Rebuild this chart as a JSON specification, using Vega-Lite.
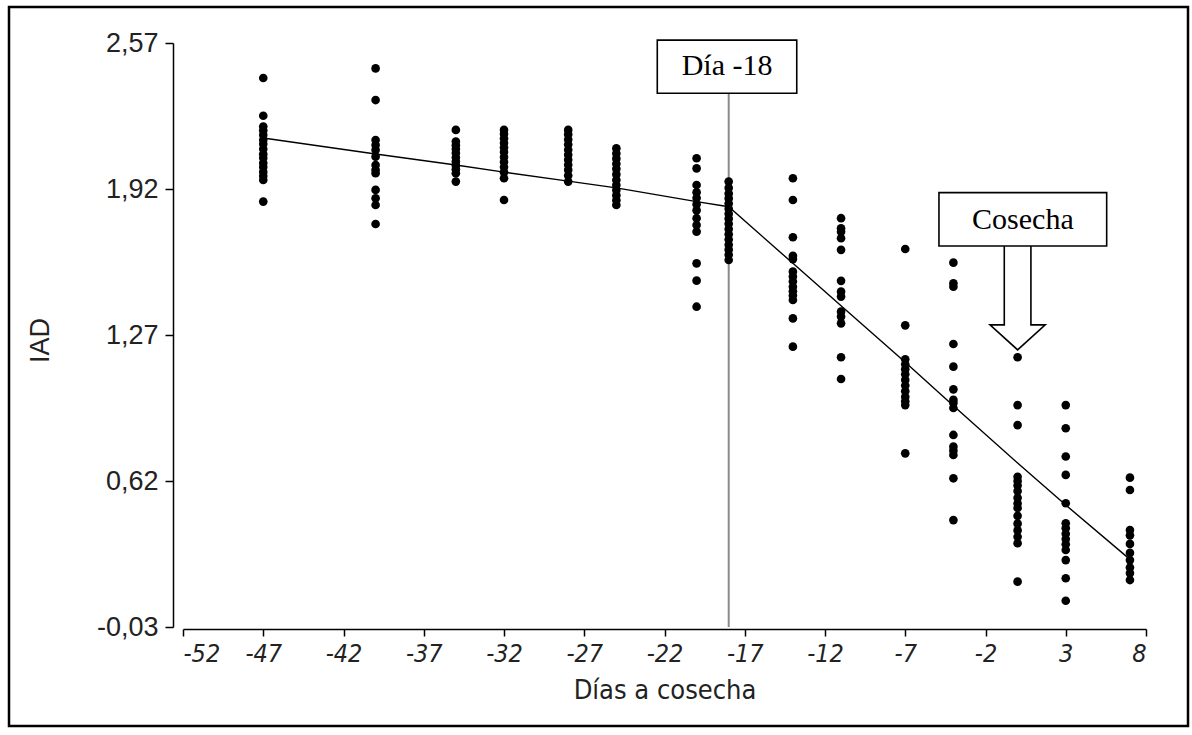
{
  "$schema": "https://vega.github.io/schema/vega-lite/v6.json",
  "width": 1179,
  "height": 719,
  "autosize": {"type": "none"},
  "padding": {"left": 9, "top": 7, "right": 4, "bottom": 9},
  "background": "white",
  "config": {
    "view": {"stroke": "black", "strokeWidth": 2.5},
    "axis": {"grid": false, "domainColor": "black", "domainWidth": 1.5, "tickColor": "black", "tickWidth": 1.5}
  },
  "datasets": {
    "pts": [
      {"x": -47, "y": 2.414}, {"x": -47, "y": 2.246}, {"x": -47, "y": 2.198}, {"x": -47, "y": 2.180}, {"x": -47, "y": 2.160}, {"x": -47, "y": 2.138}, {"x": -47, "y": 2.120}, {"x": -47, "y": 2.098}, {"x": -47, "y": 2.075}, {"x": -47, "y": 2.058}, {"x": -47, "y": 2.036}, {"x": -47, "y": 2.018}, {"x": -47, "y": 1.996}, {"x": -47, "y": 1.978}, {"x": -47, "y": 1.960}, {"x": -47, "y": 1.864},
      {"x": -40, "y": 2.457}, {"x": -40, "y": 2.316}, {"x": -40, "y": 2.138}, {"x": -40, "y": 2.116}, {"x": -40, "y": 2.094}, {"x": -40, "y": 2.064}, {"x": -40, "y": 2.027}, {"x": -40, "y": 2.005}, {"x": -40, "y": 1.990}, {"x": -40, "y": 1.916}, {"x": -40, "y": 1.879}, {"x": -40, "y": 1.849}, {"x": -40, "y": 1.764},
      {"x": -35, "y": 2.183}, {"x": -35, "y": 2.131}, {"x": -35, "y": 2.115}, {"x": -35, "y": 2.098}, {"x": -35, "y": 2.080}, {"x": -35, "y": 2.060}, {"x": -35, "y": 2.042}, {"x": -35, "y": 2.025}, {"x": -35, "y": 2.008}, {"x": -35, "y": 1.990}, {"x": -35, "y": 1.953},
      {"x": -32, "y": 2.183}, {"x": -32, "y": 2.165}, {"x": -32, "y": 2.145}, {"x": -32, "y": 2.125}, {"x": -32, "y": 2.105}, {"x": -32, "y": 2.085}, {"x": -32, "y": 2.062}, {"x": -32, "y": 2.040}, {"x": -32, "y": 2.018}, {"x": -32, "y": 1.995}, {"x": -32, "y": 1.968}, {"x": -32, "y": 1.871},
      {"x": -28, "y": 2.183}, {"x": -28, "y": 2.163}, {"x": -28, "y": 2.140}, {"x": -28, "y": 2.118}, {"x": -28, "y": 2.095}, {"x": -28, "y": 2.072}, {"x": -28, "y": 2.050}, {"x": -28, "y": 2.028}, {"x": -28, "y": 2.005}, {"x": -28, "y": 1.980}, {"x": -28, "y": 1.953},
      {"x": -25, "y": 2.101}, {"x": -25, "y": 2.078}, {"x": -25, "y": 2.055}, {"x": -25, "y": 2.032}, {"x": -25, "y": 2.010}, {"x": -25, "y": 1.985}, {"x": -25, "y": 1.960}, {"x": -25, "y": 1.938}, {"x": -25, "y": 1.915}, {"x": -25, "y": 1.892}, {"x": -25, "y": 1.870}, {"x": -25, "y": 1.849},
      {"x": -20, "y": 2.057}, {"x": -20, "y": 2.012}, {"x": -20, "y": 1.938}, {"x": -20, "y": 1.905}, {"x": -20, "y": 1.880}, {"x": -20, "y": 1.852}, {"x": -20, "y": 1.825}, {"x": -20, "y": 1.790}, {"x": -20, "y": 1.760}, {"x": -20, "y": 1.730}, {"x": -20, "y": 1.589}, {"x": -20, "y": 1.512}, {"x": -20, "y": 1.396},
      {"x": -18, "y": 1.953}, {"x": -18, "y": 1.925}, {"x": -18, "y": 1.900}, {"x": -18, "y": 1.878}, {"x": -18, "y": 1.855}, {"x": -18, "y": 1.832}, {"x": -18, "y": 1.810}, {"x": -18, "y": 1.788}, {"x": -18, "y": 1.765}, {"x": -18, "y": 1.742}, {"x": -18, "y": 1.718}, {"x": -18, "y": 1.695}, {"x": -18, "y": 1.672}, {"x": -18, "y": 1.650}, {"x": -18, "y": 1.627}, {"x": -18, "y": 1.604},
      {"x": -14, "y": 1.968}, {"x": -14, "y": 1.871}, {"x": -14, "y": 1.705}, {"x": -14, "y": 1.622}, {"x": -14, "y": 1.608}, {"x": -14, "y": 1.552}, {"x": -14, "y": 1.530}, {"x": -14, "y": 1.508}, {"x": -14, "y": 1.485}, {"x": -14, "y": 1.465}, {"x": -14, "y": 1.446}, {"x": -14, "y": 1.426}, {"x": -14, "y": 1.344}, {"x": -14, "y": 1.218},
      {"x": -11, "y": 1.790}, {"x": -11, "y": 1.745}, {"x": -11, "y": 1.730}, {"x": -11, "y": 1.701}, {"x": -11, "y": 1.649}, {"x": -11, "y": 1.511}, {"x": -11, "y": 1.463}, {"x": -11, "y": 1.441}, {"x": -11, "y": 1.374}, {"x": -11, "y": 1.352}, {"x": -11, "y": 1.322}, {"x": -11, "y": 1.171}, {"x": -11, "y": 1.074},
      {"x": -7, "y": 1.653}, {"x": -7, "y": 1.313}, {"x": -7, "y": 1.162}, {"x": -7, "y": 1.140}, {"x": -7, "y": 1.118}, {"x": -7, "y": 1.095}, {"x": -7, "y": 1.070}, {"x": -7, "y": 1.045}, {"x": -7, "y": 1.020}, {"x": -7, "y": 0.995}, {"x": -7, "y": 0.975}, {"x": -7, "y": 0.958}, {"x": -7, "y": 0.743},
      {"x": -4, "y": 1.592}, {"x": -4, "y": 1.500}, {"x": -4, "y": 1.485}, {"x": -4, "y": 1.230}, {"x": -4, "y": 1.129}, {"x": -4, "y": 1.028}, {"x": -4, "y": 0.981}, {"x": -4, "y": 0.967}, {"x": -4, "y": 0.945}, {"x": -4, "y": 0.825}, {"x": -4, "y": 0.773}, {"x": -4, "y": 0.755}, {"x": -4, "y": 0.736}, {"x": -4, "y": 0.632}, {"x": -4, "y": 0.446},
      {"x": 0, "y": 1.171}, {"x": 0, "y": 0.958}, {"x": 0, "y": 0.869}, {"x": 0, "y": 0.639}, {"x": 0, "y": 0.620}, {"x": 0, "y": 0.600}, {"x": 0, "y": 0.575}, {"x": 0, "y": 0.545}, {"x": 0, "y": 0.520}, {"x": 0, "y": 0.500}, {"x": 0, "y": 0.465}, {"x": 0, "y": 0.430}, {"x": 0, "y": 0.400}, {"x": 0, "y": 0.372}, {"x": 0, "y": 0.343}, {"x": 0, "y": 0.172},
      {"x": 3, "y": 0.958}, {"x": 3, "y": 0.855}, {"x": 3, "y": 0.729}, {"x": 3, "y": 0.647}, {"x": 3, "y": 0.521}, {"x": 3, "y": 0.432}, {"x": 3, "y": 0.410}, {"x": 3, "y": 0.385}, {"x": 3, "y": 0.362}, {"x": 3, "y": 0.338}, {"x": 3, "y": 0.313}, {"x": 3, "y": 0.268}, {"x": 3, "y": 0.187}, {"x": 3, "y": 0.087},
      {"x": 7, "y": 0.635}, {"x": 7, "y": 0.580}, {"x": 7, "y": 0.402}, {"x": 7, "y": 0.378}, {"x": 7, "y": 0.340}, {"x": 7, "y": 0.300}, {"x": 7, "y": 0.268}, {"x": 7, "y": 0.235}, {"x": 7, "y": 0.210}, {"x": 7, "y": 0.179}
    ],
    "fit": [
      {"x": -47, "y": 2.147}, {"x": -40, "y": 2.076}, {"x": -35, "y": 2.027}, {"x": -32, "y": 1.995}, {"x": -28, "y": 1.955}, {"x": -25, "y": 1.925}, {"x": -20, "y": 1.864}, {"x": -18, "y": 1.841},
      {"x": -14, "y": 1.589}, {"x": -11, "y": 1.400}, {"x": -7, "y": 1.149}, {"x": -4, "y": 0.955}, {"x": 0, "y": 0.700}, {"x": 3, "y": 0.513}, {"x": 7, "y": 0.271}
    ],
    "vline": [{"x": -18, "y": -0.03, "y2": 2.346}],
    "arrow": [
      {"o": 1, "x": -0.83, "y": 1.666}, {"o": 2, "x": -0.83, "y": 1.315}, {"o": 3, "x": -1.72, "y": 1.315}, {"o": 4, "x": 0.0, "y": 1.204},
      {"o": 5, "x": 1.72, "y": 1.315}, {"o": 6, "x": 0.83, "y": 1.315}, {"o": 7, "x": 0.83, "y": 1.666}
    ],
    "boxes": [
      {"x": -22.45, "x2": -13.76, "y": 2.583, "y2": 2.346},
      {"x": -4.90, "x2": 5.55, "y": 1.904, "y2": 1.666}
    ],
    "labels": [
      {"x": -18.1, "y": 2.466, "t": "Día -18"},
      {"x": 0.33, "y": 1.782, "t": "Cosecha"}
    ]
  },
  "encoding": {
    "x": {
      "field": "x", "type": "quantitative",
      "scale": {"domain": [-52, 8], "range": [174, 1137], "zero": false, "nice": false},
      "axis": {
        "orient": "bottom", "offset": -97, "title": "Días a cosecha",
        "values": [-52, -47, -42, -37, -32, -27, -22, -17, -12, -7, -2, 3, 8],
        "labelExpr": "replace(format(datum.value, 'd'), '\u2212', '-')",
        "labelFont": "Liberation Sans Narrow, DejaVu Sans Condensed, Liberation Sans", "labelFontStyle": "italic",
        "labelFontSize": 25, "labelColor": "#222", "labelPadding": 5, "tickSize": 7,
        "titleFont": "Liberation Sans Narrow, DejaVu Sans Condensed, Liberation Sans", "titleFontSize": 27, "titleFontWeight": "normal",
        "titleColor": "#222", "titleY": 61, "titleBaseline": "middle"
      }
    },
    "y": {
      "field": "y", "type": "quantitative",
      "scale": {"domain": [-0.03, 2.57], "range": [620, 36], "zero": false, "nice": false},
      "axis": {
        "orient": "left", "offset": -164, "title": "IAD",
        "values": [-0.03, 0.62, 1.27, 1.92, 2.57],
        "labelExpr": "replace(replace(format(datum.value, '.2f'), '.', ','), '\u2212', '-')",
        "labelFont": "Liberation Sans", "labelFontSize": 27, "labelColor": "#222", "labelPadding": 7, "tickSize": 8,
        "titleFont": "Liberation Sans", "titleFontSize": 27, "titleFontWeight": "normal", "titleColor": "#222",
        "titleX": -133, "titleY": 333, "titleAngle": -90, "titleAlign": "center", "titleBaseline": "middle"
      }
    }
  },
  "layer": [
    {
      "data": {"name": "vline"},
      "mark": {"type": "rule", "color": "#8a8a8a", "strokeWidth": 2},
      "encoding": {"y2": {"field": "y2"}}
    },
    {
      "data": {"name": "fit"},
      "mark": {"type": "line", "color": "black", "strokeWidth": 1.4},
      "encoding": {}
    },
    {
      "data": {"name": "pts"},
      "mark": {"type": "circle", "color": "black", "opacity": 1, "size": 75},
      "encoding": {}
    },
    {
      "data": {"name": "arrow"},
      "mark": {"type": "line", "color": "black", "strokeWidth": 1.6},
      "encoding": {"order": {"field": "o", "type": "quantitative"}}
    },
    {
      "data": {"name": "boxes"},
      "mark": {"type": "rect", "fill": "white", "stroke": "black", "strokeWidth": 1.6},
      "encoding": {"x2": {"field": "x2"}, "y2": {"field": "y2"}}
    },
    {
      "data": {"name": "labels"},
      "mark": {"type": "text", "font": "Liberation Serif", "fontSize": 30, "color": "black", "baseline": "middle", "align": "center"},
      "encoding": {"text": {"field": "t"}}
    }
  ]
}
